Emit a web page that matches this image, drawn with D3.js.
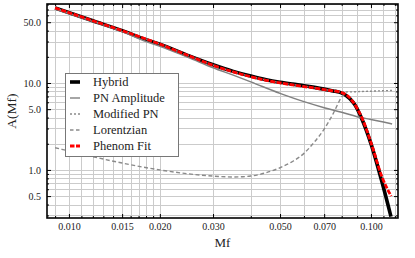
<!DOCTYPE html>
<html><head><meta charset="utf-8">
<script src="https://cdn.jsdelivr.net/npm/d3@7"></script>
<style>
html,body{margin:0;padding:0;background:#fff;}
svg{display:block;}
</style></head>
<body><svg id="c" width="415" height="258"></svg>
<script>
// ---- data ----
const hybridX = [0.009,0.012,0.015,0.0185,0.02,0.025,0.03,0.035,0.04,0.045,0.05,0.055,0.06,0.065,0.07,0.075,0.0785,0.0808,0.0852,0.0885,0.093,0.1003,0.1085,0.1165];
const hybridY = [73,52,40,30.5,28,20.5,16.2,13.6,12.0,10.9,10.2,9.7,9.3,8.9,8.5,8.1,7.85,7.55,6.6,5.6,3.96,1.94,0.75,0.29];
const pnX = [0.009,0.012,0.015,0.0185,0.02,0.025,0.03,0.035,0.04,0.05,0.06,0.07,0.08,0.09,0.1,0.11,0.1175];
const pnY = [71,51,39,29,26.5,19.5,15,12.3,10.3,7.6,6.1,5.2,4.6,4.1,3.8,3.55,3.38];
const modX = [0.009,0.012,0.015,0.02,0.025,0.03,0.035,0.04,0.05,0.06,0.07,0.075,0.08,0.085,0.09,0.1,0.11,0.1175];
const modY = [73,52,40,28,20.5,16.1,13.5,11.9,10.1,9.2,8.45,8.1,7.9,7.9,7.95,8.05,8.15,8.2];
const lorX = [0.009,0.01,0.012,0.015,0.02,0.025,0.03,0.035,0.04,0.045,0.05,0.055,0.06,0.065,0.07,0.075,0.08,0.083];
const lorY = [1.8,1.65,1.42,1.2,1.0,0.9,0.85,0.83,0.85,0.93,1.06,1.25,1.55,2.1,2.95,4.45,6.9,7.9];
const fitX = [0.009,0.012,0.015,0.02,0.025,0.03,0.035,0.04,0.045,0.05,0.055,0.06,0.065,0.07,0.075,0.0785,0.0808,0.0842,0.0871,0.0906,0.093,0.1003,0.1085,0.1166];
const fitY = [73,52,40,28,20.5,16.0,13.4,11.8,10.7,10.0,9.5,9.1,8.75,8.4,8.1,7.9,7.65,7.0,6.1,4.9,4.1,2.0,0.85,0.5];

const xTicks = [0.01,0.015,0.02,0.03,0.05,0.07,0.1];
const xTickLabels = ["0.010","0.015","0.020","0.030","0.050","0.070","0.100"];
const xMinor = [0.009,0.011,0.012,0.013,0.014,0.016,0.017,0.018,0.019,0.04,0.06,0.08,0.09,0.11,0.12];
const yTicks = [0.5,1,5,10,50];
const yTickLabels = ["0.5","1.0","5.0","10.0","50.0"];
const yMinor = [0.3,0.4,0.6,0.7,0.8,0.9,2,3,4,6,7,8,9,20,30,40,60,70,80];
const legendNames = ["Hybrid","PN Amplitude","Modified PN","Lorentzian","Phenom Fit"];

// ---- pick an installed serif font ----
function pickSerif(){
  const c = document.createElement("canvas").getContext("2d");
  const s = "Hybrid Amplitude Lorentzian 0.010 Mf";
  c.font = "40px monospace"; const mono = c.measureText(s).width;
  c.font = "40px sans-serif"; const sans = c.measureText(s).width;
  const cands = ["Liberation Serif","Times New Roman","Tinos","DejaVu Serif","Noto Serif","FreeSerif","Nimbus Roman","serif"];
  for (const f of cands){
    c.font = `40px "${f}", monospace`; const w1 = c.measureText(s).width;
    if (Math.abs(w1-mono)>0.5 && Math.abs(w1-sans)>0.5) return `"${f}"`;
  }
  return "serif";
}
const FONT = pickSerif() + ", serif";

// ---- chart ----
const svg = d3.select("#c");
const L=47, R=398, T=4, B=218;
const x = d3.scaleLog().domain([0.00846,0.1229]).range([L,R]);
const y = d3.scaleLog().domain([0.28,81]).range([B,T]);

svg.append("defs").append("clipPath").attr("id","clip").append("rect")
  .attr("x",L).attr("y",T).attr("width",R-L).attr("height",B-T);

// grid
const grid = svg.append("g").attr("stroke","#cbcbcb").attr("stroke-width",1);
xTicks.concat(xMinor).forEach(v=>{
  const px = Math.round(x(v))+0.5;
  if(px>L && px<R) grid.append("line").attr("x1",px).attr("x2",px).attr("y1",T).attr("y2",B);
});
yTicks.concat(yMinor).forEach(v=>{
  const py = Math.round(y(v))+0.5;
  if(py>T && py<B) grid.append("line").attr("x1",L).attr("x2",R).attr("y1",py).attr("y2",py);
});

// curves
const plot = svg.append("g").attr("clip-path","url(#clip)");
const line = d3.line().x(d=>x(d[0])).y(d=>y(d[1])).curve(d3.curveMonotoneX);
const zip = (a,b)=>a.map((v,i)=>[v,b[i]]);
const series = [
  {name:legendNames[0], d:zip(hybridX,hybridY), stroke:"#000", w:3.6, dash:null, lw:3.6, ldash:null},
  {name:legendNames[1], d:zip(pnX,pnY), stroke:"#808080", w:1.5, dash:null, lw:1.4, ldash:null},
  {name:legendNames[2], d:zip(modX,modY), stroke:"#8a8a8a", w:1.4, dash:"2,2", lw:1.4, ldash:"2,2"},
  {name:legendNames[3], d:zip(lorX,lorY), stroke:"#8a8a8a", w:1.4, dash:"4,2.5", lw:1.4, ldash:"3.5,2.5"},
  {name:legendNames[4], d:zip(fitX,fitY), stroke:"#ff0000", w:2.8, dash:"5,1.5", lw:2.8, ldash:"4.5,1.5"}
];
series.forEach(s=>{
  plot.append("path").attr("d",line(s.d)).attr("fill","none")
    .attr("stroke",s.stroke).attr("stroke-width",s.w)
    .attr("stroke-dasharray",s.dash).attr("stroke-linejoin","round");
});

// axes
svg.append("g").attr("transform",`translate(0,${B})`)
  .call(d3.axisBottom(x).tickValues(xTicks).tickFormat((d,i)=>xTickLabels[i]).tickSizeInner(-4).tickSizeOuter(0).tickPadding(5));
svg.append("g").attr("transform",`translate(0,${T})`)
  .call(d3.axisTop(x).tickValues(xTicks).tickFormat("").tickSizeInner(-4).tickSizeOuter(0));
svg.append("g").attr("transform",`translate(${L},0)`)
  .call(d3.axisLeft(y).tickValues(yTicks).tickFormat((d,i)=>yTickLabels[i]).tickSizeInner(-4).tickSizeOuter(0).tickPadding(6));
svg.append("g").attr("transform",`translate(${R},0)`)
  .call(d3.axisRight(y).tickValues(yTicks).tickFormat("").tickSizeInner(-4).tickSizeOuter(0));
const xm = xMinor.filter(v=>x(v)>L&&x(v)<R);
svg.append("g").attr("transform",`translate(0,${B})`).call(d3.axisBottom(x).tickValues(xm).tickFormat("").tickSizeInner(-2).tickSizeOuter(0));
svg.append("g").attr("transform",`translate(0,${T})`).call(d3.axisTop(x).tickValues(xm).tickFormat("").tickSizeInner(-2).tickSizeOuter(0));
svg.append("g").attr("transform",`translate(${L},0)`).call(d3.axisLeft(y).tickValues(yMinor).tickFormat("").tickSizeInner(-2).tickSizeOuter(0));
svg.append("g").attr("transform",`translate(${R},0)`).call(d3.axisRight(y).tickValues(yMinor).tickFormat("").tickSizeInner(-2).tickSizeOuter(0));

svg.selectAll(".domain").remove();
svg.selectAll("g[font-family]").attr("font-family",FONT);
svg.selectAll(".tick line").attr("stroke","#000").attr("stroke-width",1);
svg.selectAll(".tick text").attr("font-family",FONT).style("font-family",FONT).attr("font-size","10px").attr("fill","#222");

// frame
svg.append("rect").attr("x",L).attr("y",T).attr("width",R-L).attr("height",B-T)
  .attr("fill","none").attr("stroke","#000").attr("stroke-width",1.6);

// axis titles
svg.append("text").attr("x",(L+R)/2).attr("y",247).attr("text-anchor","middle")
  .style("font-family",FONT).attr("font-size","13px").attr("fill","#222").text("Mf");
svg.append("text").attr("transform",`translate(16,${(T+B)/2}) rotate(-90)`).attr("text-anchor","middle")
  .style("font-family",FONT).attr("font-size","13.5px").attr("fill","#222").text("A(Mf)");

// legend
const lg = svg.append("g");
lg.append("rect").attr("x",65.5).attr("y",73.5).attr("width",113).attr("height",83)
  .attr("fill","#fff").attr("stroke","#777").attr("stroke-width",1);
series.forEach((s,i)=>{
  const yy = 82 + i*16;
  lg.append("line").attr("x1",70).attr("x2",80).attr("y1",yy).attr("y2",yy)
    .attr("stroke",s.stroke).attr("stroke-width",s.lw).attr("stroke-dasharray",s.ldash);
  lg.append("text").attr("x",93).attr("y",yy+4).style("font-family",FONT)
    .attr("font-size","12.5px").attr("fill","#222").text(s.name);
});
</script></body></html>
